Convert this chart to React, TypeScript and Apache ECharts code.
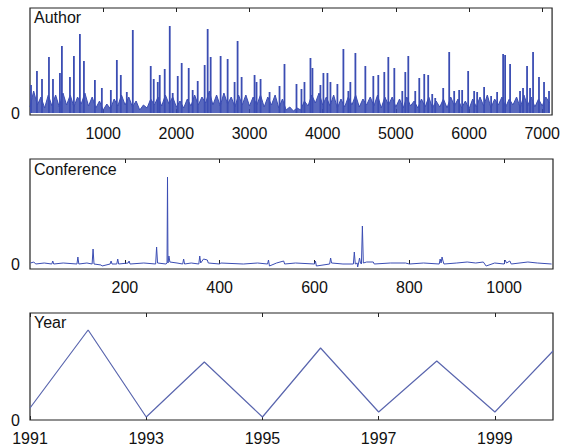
import React, { useEffect, useRef } from "react";
import * as echarts from "echarts";

const FONT = "'Liberation Sans', Arial, Helvetica, sans-serif";
const BLUE = "#3b4db3";
const YEAR_BLUE = "#5a66ae";

// Author panel
const authorTicks = [1000, 2000, 3000, 4000, 5000, 6000, 7000];
const authorStep = 50;
const authorBase = [
  6, 22, 8, 16, 5, 18, 7, 18, 6, 20,
  8, 18, 6, 16, 9, 20, 7, 16, 5, 12,
  3, 9, 4, 14, 7, 18, 8, 16, 6, 12,
  3, 8, 5, 14, 8, 16, 7, 18, 9, 16,
  6, 12, 5, 14, 7, 18, 8, 16, 10, 22,
  8, 18, 7, 20, 9, 16, 6, 18, 8, 18,
  7, 16, 8, 18, 6, 16, 8, 18, 5, 14,
  3, 6, 2, 5, 3, 12, 7, 18, 10, 20,
  8, 16, 7, 18, 5, 14, 6, 16, 8, 18,
  6, 14, 8, 16, 7, 18, 5, 16, 8, 16,
  6, 14, 5, 16, 7, 12, 5, 14, 6, 16,
  5, 12, 6, 14, 5, 16, 7, 14, 5, 12,
  4, 14, 6, 16, 7, 18, 5, 14, 8, 16,
  6, 14, 8, 16, 5, 18, 7, 16, 6, 14,
  7, 16, 10,
];
const authorSpikes = [
  [14, 28], [95, 42], [164, 34], [259, 56], [314, 34], [409, 40], [436, 67], [546, 36],
  [600, 57], [682, 79], [737, 52], [887, 33], [982, 25], [1105, 23], [1187, 53], [1241, 38],
  [1323, 21], [1405, 83], [1650, 47], [1691, 34], [1746, 31], [1773, 38], [1841, 44], [1910, 87],
  [1950, 20], [2019, 37], [2073, 50], [2169, 45], [2223, 23], [2292, 32], [2387, 48], [2428, 84],
  [2469, 56], [2605, 57], [2701, 54], [2796, 31], [2837, 72], [2892, 36], [3069, 38], [3096, 31],
  [3151, 34], [3274, 21], [3410, 27], [3478, 49], [3642, 29], [3710, 24], [3751, 31], [3833, 55],
  [3860, 45], [3969, 28], [4010, 40], [4065, 40], [4106, 31], [4201, 29], [4283, 64], [4351, 22],
  [4378, 31], [4447, 60], [4583, 47], [4692, 37], [4760, 38], [4842, 41], [4897, 56], [4979, 45],
  [5088, 22], [5129, 41], [5170, 57], [5265, 22], [5320, 35], [5388, 39], [5442, 38], [5497, 19],
  [5538, 15], [5647, 25], [5729, 61], [5797, 22], [5865, 23], [5906, 23], [5988, 42], [6070, 22],
  [6111, 21], [6206, 26], [6302, 17], [6384, 21], [6466, 59], [6493, 58], [6561, 49], [6697, 22],
  [6738, 25], [6793, 47], [6834, 25], [6875, 61], [6956, 36], [7025, 31], [7093, 22],
];

// Conference panel
const conferenceTicks = [200, 400, 600, 800, 1000];
const conferencePoints = [
  [1, 1], [8, 2], [12, 0], [30, 1], [46, 0], [48, 3], [50, 0], [70, 1], [99, 0], [101, 7],
  [103, 0], [120, 1], [131, 0], [133, 15], [135, 0], [150, -1], [152, -2], [169, 0], [171, 3], [173, 0],
  [183, 0], [185, 5], [187, 0], [207, 1], [209, 3], [211, 0], [240, 1], [265, 0], [267, 17], [269, 1],
  [287, 0], [289, 1], [290, 87], [291, 1], [293, 8], [295, 2], [310, 1], [322, 0], [324, 5], [326, 0],
  [340, 1], [356, 0], [358, 8], [360, 1], [366, 5], [374, 4], [376, 1], [400, 0], [402, 1], [450, 0],
  [480, 1], [501, 0], [503, 4], [505, -2], [520, 1], [535, 3], [537, 0], [560, 1], [600, 0], [602, 3],
  [604, -2], [632, 0], [634, 6], [636, 1], [660, 0], [682, 0], [684, 12], [686, 0], [690, 1], [691, -3],
  [693, 1], [695, 6], [697, 1], [699, 0], [701, 38], [703, 1], [710, 2], [724, 2], [726, 0], [760, 1],
  [792, 1], [800, 0], [830, 1], [863, 0], [865, 5], [867, 1], [869, 7], [871, 3], [873, 0], [900, 1],
  [922, 2], [940, 1], [956, 2], [962, -2], [980, 1], [1000, 0], [1002, 4], [1005, 1], [1012, 3], [1015, 0],
  [1050, 2], [1070, 1], [1100, 0],
];

// Year panel
const yearTicks = [1991, 1993, 1995, 1997, 1999];
const years = [1991, 1992, 1993, 1994, 1995, 1996, 1997, 1998, 1999, 2000];
const yearValues = [12, 90, 3, 58, 3, 72, 8, 59, 8, 69];

const panelTitles = ["Author", "Conference", "Year"];

function xAxisPair(gridIndex: number, min: number, max: number, ticks: number[]) {
  const tick = {
    show: true,
    inside: true,
    length: 4,
    customValues: ticks,
    lineStyle: { color: "#222", width: 1 },
  };
  return [
    {
      type: "value",
      gridIndex,
      position: "bottom",
      min,
      max,
      axisLine: { show: false },
      splitLine: { show: false },
      axisTick: tick,
      axisLabel: {
        show: true,
        customValues: ticks,
        formatter: (v: number) => String(v),
        margin: 10,
        fontSize: 16,
        color: "#111",
        fontFamily: FONT,
      },
    },
    {
      type: "value",
      gridIndex,
      position: "top",
      min,
      max,
      axisLine: { show: false },
      splitLine: { show: false },
      axisTick: tick,
      axisLabel: { show: false },
    },
  ];
}

function yAxis(gridIndex: number, min: number, max: number) {
  return {
    type: "value",
    gridIndex,
    min,
    max,
    axisLine: { show: false },
    axisTick: { show: false },
    splitLine: { show: false },
    axisLabel: {
      show: true,
      customValues: [0],
      formatter: (v: number) => String(v),
      margin: 10,
      fontSize: 16,
      color: "#111",
      fontFamily: FONT,
    },
  };
}

export default function App() {
  const ref = useRef<HTMLDivElement>(null);

  useEffect(() => {
    if (!ref.current) return;
    const chart = echarts.init(ref.current, undefined, { renderer: "svg" });

    const gridBase = {
      left: 30,
      width: 523,
      show: true,
      borderColor: "#222",
      borderWidth: 1.2,
      backgroundColor: "transparent",
    };

    const option: any = {
      animation: false,
      backgroundColor: "#ffffff",
      title: [
        { text: panelTitles[0], left: 34, top: 9 },
        { text: panelTitles[1], left: 34, top: 161 },
        { text: panelTitles[2], left: 34, top: 314 },
      ].map((t) => ({
        ...t,
        padding: 0,
        textStyle: { fontSize: 16, fontWeight: "normal", color: "#111", fontFamily: FONT },
      })),
      grid: [
        { ...gridBase, top: 8, height: 107 },
        { ...gridBase, top: 159, height: 110 },
        { ...gridBase, top: 313, height: 107 },
      ],
      xAxis: [
        ...xAxisPair(0, 0, 7135, authorTicks),
        ...xAxisPair(1, 0, 1103, conferenceTicks),
        ...xAxisPair(2, 1991, 2000, yearTicks),
      ],
      yAxis: [yAxis(0, -2, 105), yAxis(1, -5, 105), yAxis(2, 0, 107)],
      series: [
        {
          type: "line",
          xAxisIndex: 0,
          yAxisIndex: 0,
          data: authorBase.map((v, i) => [i * authorStep, v]),
          showSymbol: false,
          lineStyle: { color: BLUE, width: 1 },
          areaStyle: { color: BLUE, opacity: 0.85 },
          z: 2,
        },
        {
          type: "bar",
          xAxisIndex: 0,
          yAxisIndex: 0,
          data: authorSpikes,
          barWidth: 1.8,
          itemStyle: { color: BLUE },
          z: 3,
        },
        {
          type: "line",
          xAxisIndex: 2,
          yAxisIndex: 1,
          data: conferencePoints,
          showSymbol: false,
          lineStyle: { color: BLUE, width: 1 },
        },
        {
          type: "line",
          xAxisIndex: 4,
          yAxisIndex: 2,
          data: years.map((y, i) => [y, yearValues[i]]),
          showSymbol: false,
          lineStyle: { color: YEAR_BLUE, width: 1.2 },
        },
      ],
    };

    chart.setOption(option);
    return () => chart.dispose();
  }, []);

  return (
    <div
      ref={ref}
      style={{ position: "fixed", left: 0, top: 0, width: 563, height: 447, background: "#fff" }}
    />
  );
}
